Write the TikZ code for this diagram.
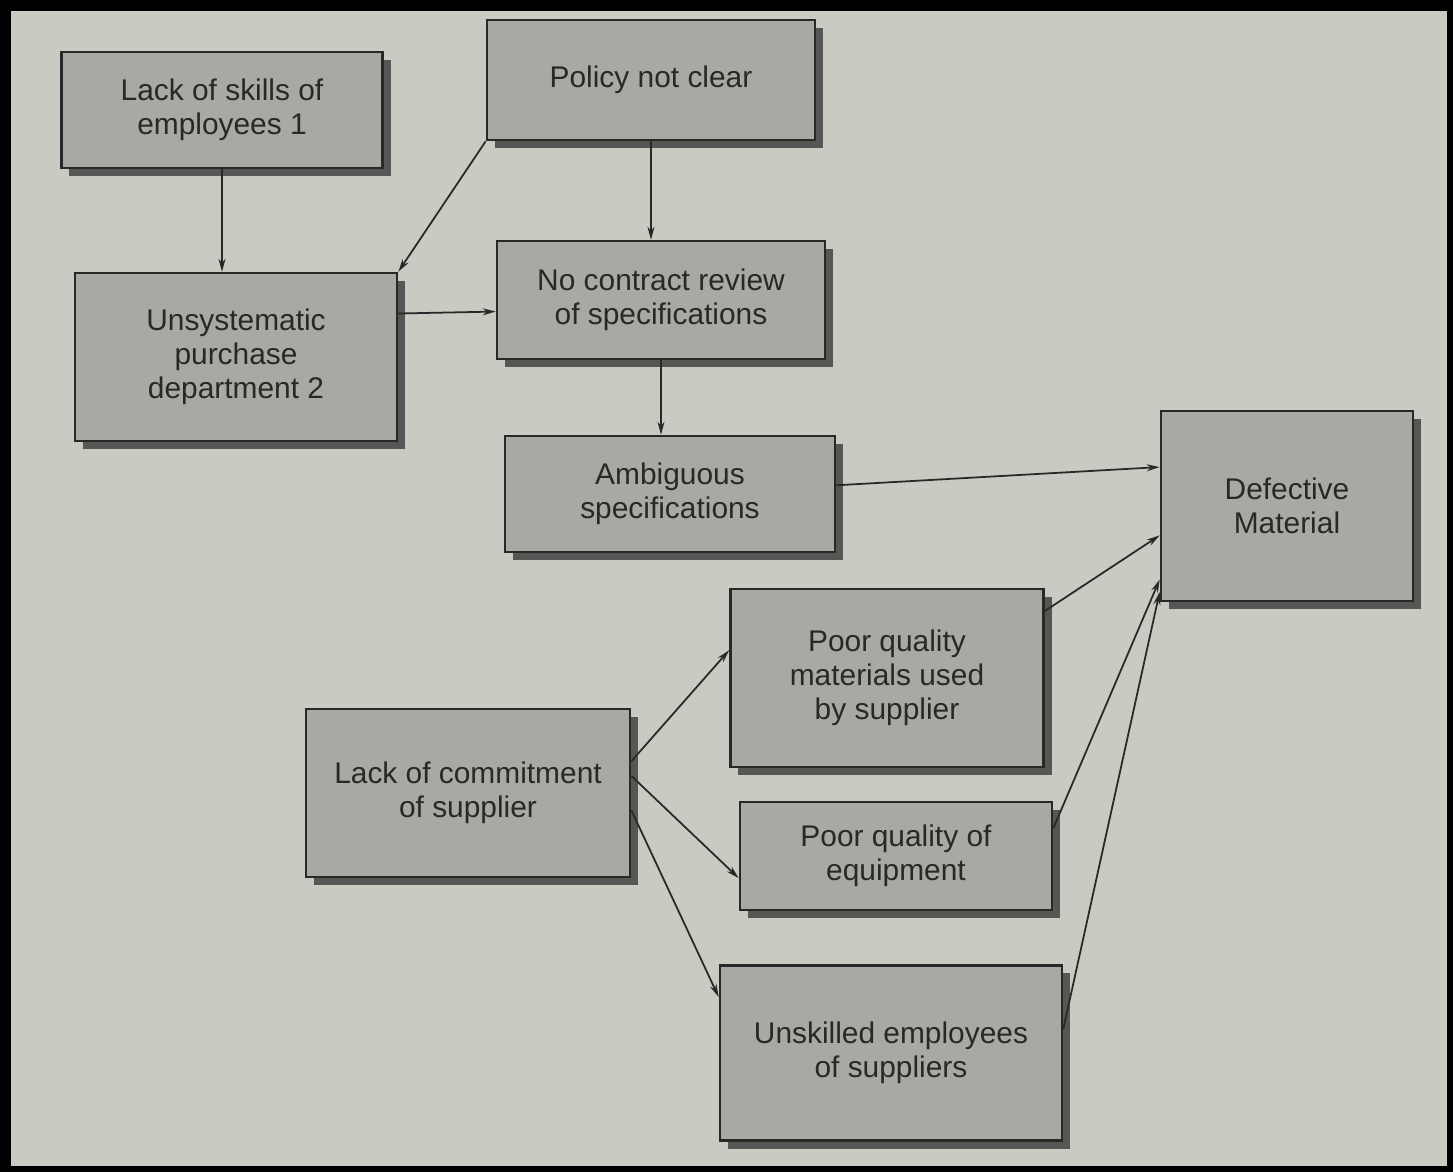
\documentclass[tikz,border=0pt]{standalone}
\usepackage{fontspec}
\setmainfont{Liberation Sans}
\usetikzlibrary{arrows.meta,shadows}
\definecolor{paper}{RGB}{201,202,194}
\definecolor{boxfill}{RGB}{168,169,163}
\definecolor{shade}{RGB}{86,86,84}
\definecolor{ink}{RGB}{40,40,40}
\begin{document}
\begin{tikzpicture}[x=0.01cm,y=-0.01cm,
  cause/.style={draw=ink, line width=0.7pt, fill=boxfill, text=ink, align=center,
    inner sep=0pt, font=\fontsize{8.5}{9.7}\selectfont,
    drop shadow={shadow xshift=0.08cm,shadow yshift=-0.08cm,fill=shade,opacity=1}},
  arr/.style={draw=ink, line width=0.5pt, -{Stealth[length=0.13cm,width=0.07cm]}}]
\fill[black] (0,0) rectangle (1453,1172);
\fill[paper] (11,11) rectangle (1447,1166);
\useasboundingbox (0,0) rectangle (1453,1172);

\node[cause, minimum width=3.21cm, minimum height=1.16cm] (skills) at (222,110) {Lack of skills of\\employees 1};
\node[cause, minimum width=3.28cm, minimum height=1.20cm] (policy) at (651,80) {Policy not clear};
\node[cause, minimum width=3.22cm, minimum height=1.68cm] (unsys) at (236,357) {Unsystematic\\purchase\\department 2};
\node[cause, minimum width=3.28cm, minimum height=1.18cm] (review) at (661,300) {No contract review\\of specifications};
\node[cause, minimum width=3.30cm, minimum height=1.16cm] (ambig) at (670,494) {Ambiguous\\specifications};
\node[cause, minimum width=2.52cm, minimum height=1.90cm] (defect) at (1287,506) {Defective\\Material};
\node[cause, minimum width=3.13cm, minimum height=1.78cm] (poormat) at (887,678) {Poor quality\\materials used\\by supplier};
\node[cause, minimum width=3.24cm, minimum height=1.68cm] (commit) at (468,793) {Lack of commitment\\of supplier};
\node[cause, minimum width=3.12cm, minimum height=1.08cm] (equip) at (896,856) {Poor quality of\\equipment};
\node[cause, minimum width=3.42cm, minimum height=1.75cm] (unskill) at (891,1053) {Unskilled employees\\of suppliers};

\draw[arr] (skills.south) -- (skills.south |- unsys.north);
\draw[arr] (policy.south west) -- (unsys.north east);
\draw[arr] (policy.south) -- (policy.south |- review.north);
\draw[arr] (unsys.15) -- (review.184);
\draw[arr] (review.south) -- (review.south |- ambig.north);
\draw[arr] (ambig.3) -- (defect.163);
\draw[arr] (poormat.23) -- (defect.193);
\draw[arr] (equip.10) -- (defect.210);
\draw[arr] (unskill.8) -- (defect.214);
\draw[arr] (commit.11) -- (poormat.170);
\draw[arr] (commit.6) -- (equip.188);
\draw[arr] (commit.354) -- (unskill.162);
\end{tikzpicture}
\end{document}
